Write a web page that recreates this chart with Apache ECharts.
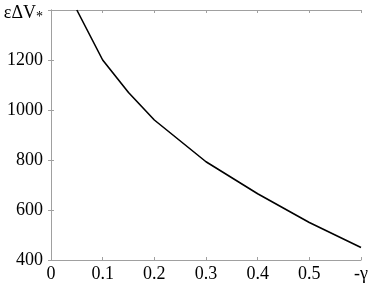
<!DOCTYPE html>
<html><head><meta charset="utf-8">
<script src="https://cdn.jsdelivr.net/npm/echarts@6/dist/echarts.min.js"></script>
<style>html,body{margin:0;padding:0;background:#fff}#c{width:373px;height:294px}</style>
</head><body><div id="c"></div>
<script>
const gammaValues = [0.05, 0.1, 0.15, 0.2, 0.3, 0.4, 0.5, 0.6];
const deltaV = [1400, 1200, 1070, 960, 793, 665, 550, 450];
const xTicks = [0, 0.1, 0.2, 0.3, 0.4, 0.5, 0.6];
const xTickLabels = ['0', '0.1', '0.2', '0.3', '0.4', '0.5', '-γ'];
const yTickLabels = {400: '400', 600: '600', 800: '800', 1000: '1000', 1200: '1200', 1400: '{e|εΔV}{s|*}'};

const font = 'Liberation Serif';
const frame = '#a0a0a0';
const chart = echarts.init(document.getElementById('c'));
const baseAxis = {
  axisLine: {show: true, lineStyle: {color: frame, width: 1}},
  axisTick: {show: true, inside: true, length: 3, lineStyle: {color: frame}},
  splitLine: {show: false}
};
chart.setOption({
  animation: false,
  grid: {left: 51, right: 12, top: 10, bottom: 34},
  xAxis: [
    Object.assign({}, baseAxis, {type: 'value', min: 0, max: 0.6, interval: 0.1, position: 'bottom',
      axisLabel: {fontFamily: font, fontSize: 18, color: '#000', margin: 5,
        formatter: v => { const i = xTicks.findIndex(t => Math.abs(t - v) < 1e-9); return i >= 0 ? xTickLabels[i] : ''; }}}),
    Object.assign({}, baseAxis, {type: 'value', min: 0, max: 0.6, interval: 0.1, position: 'top', axisLabel: {show: false}})
  ],
  yAxis: [
    Object.assign({}, baseAxis, {type: 'value', min: 400, max: 1400, interval: 200, position: 'left',
      axisLabel: {fontFamily: font, fontSize: 18, color: '#000', margin: 8,
        formatter: v => yTickLabels[Math.round(v)] || '',
        rich: {e: {fontFamily: font, fontSize: 18, color: '#000', padding: [7, 0, 0, 0]}, s: {fontFamily: font, fontSize: 14, color: '#000', padding: [14, 0, 0, 0]}}}}),
    Object.assign({}, baseAxis, {type: 'value', min: 400, max: 1400, interval: 200, position: 'right', axisLabel: {show: false}})
  ],
  series: [{
    type: 'line', xAxisIndex: 0, yAxisIndex: 0,
    data: gammaValues.map((g, i) => [g, deltaV[i]]),
    showSymbol: false, lineStyle: {color: '#000', width: 1.6}, clip: true
  }]
});
</script></body></html>
